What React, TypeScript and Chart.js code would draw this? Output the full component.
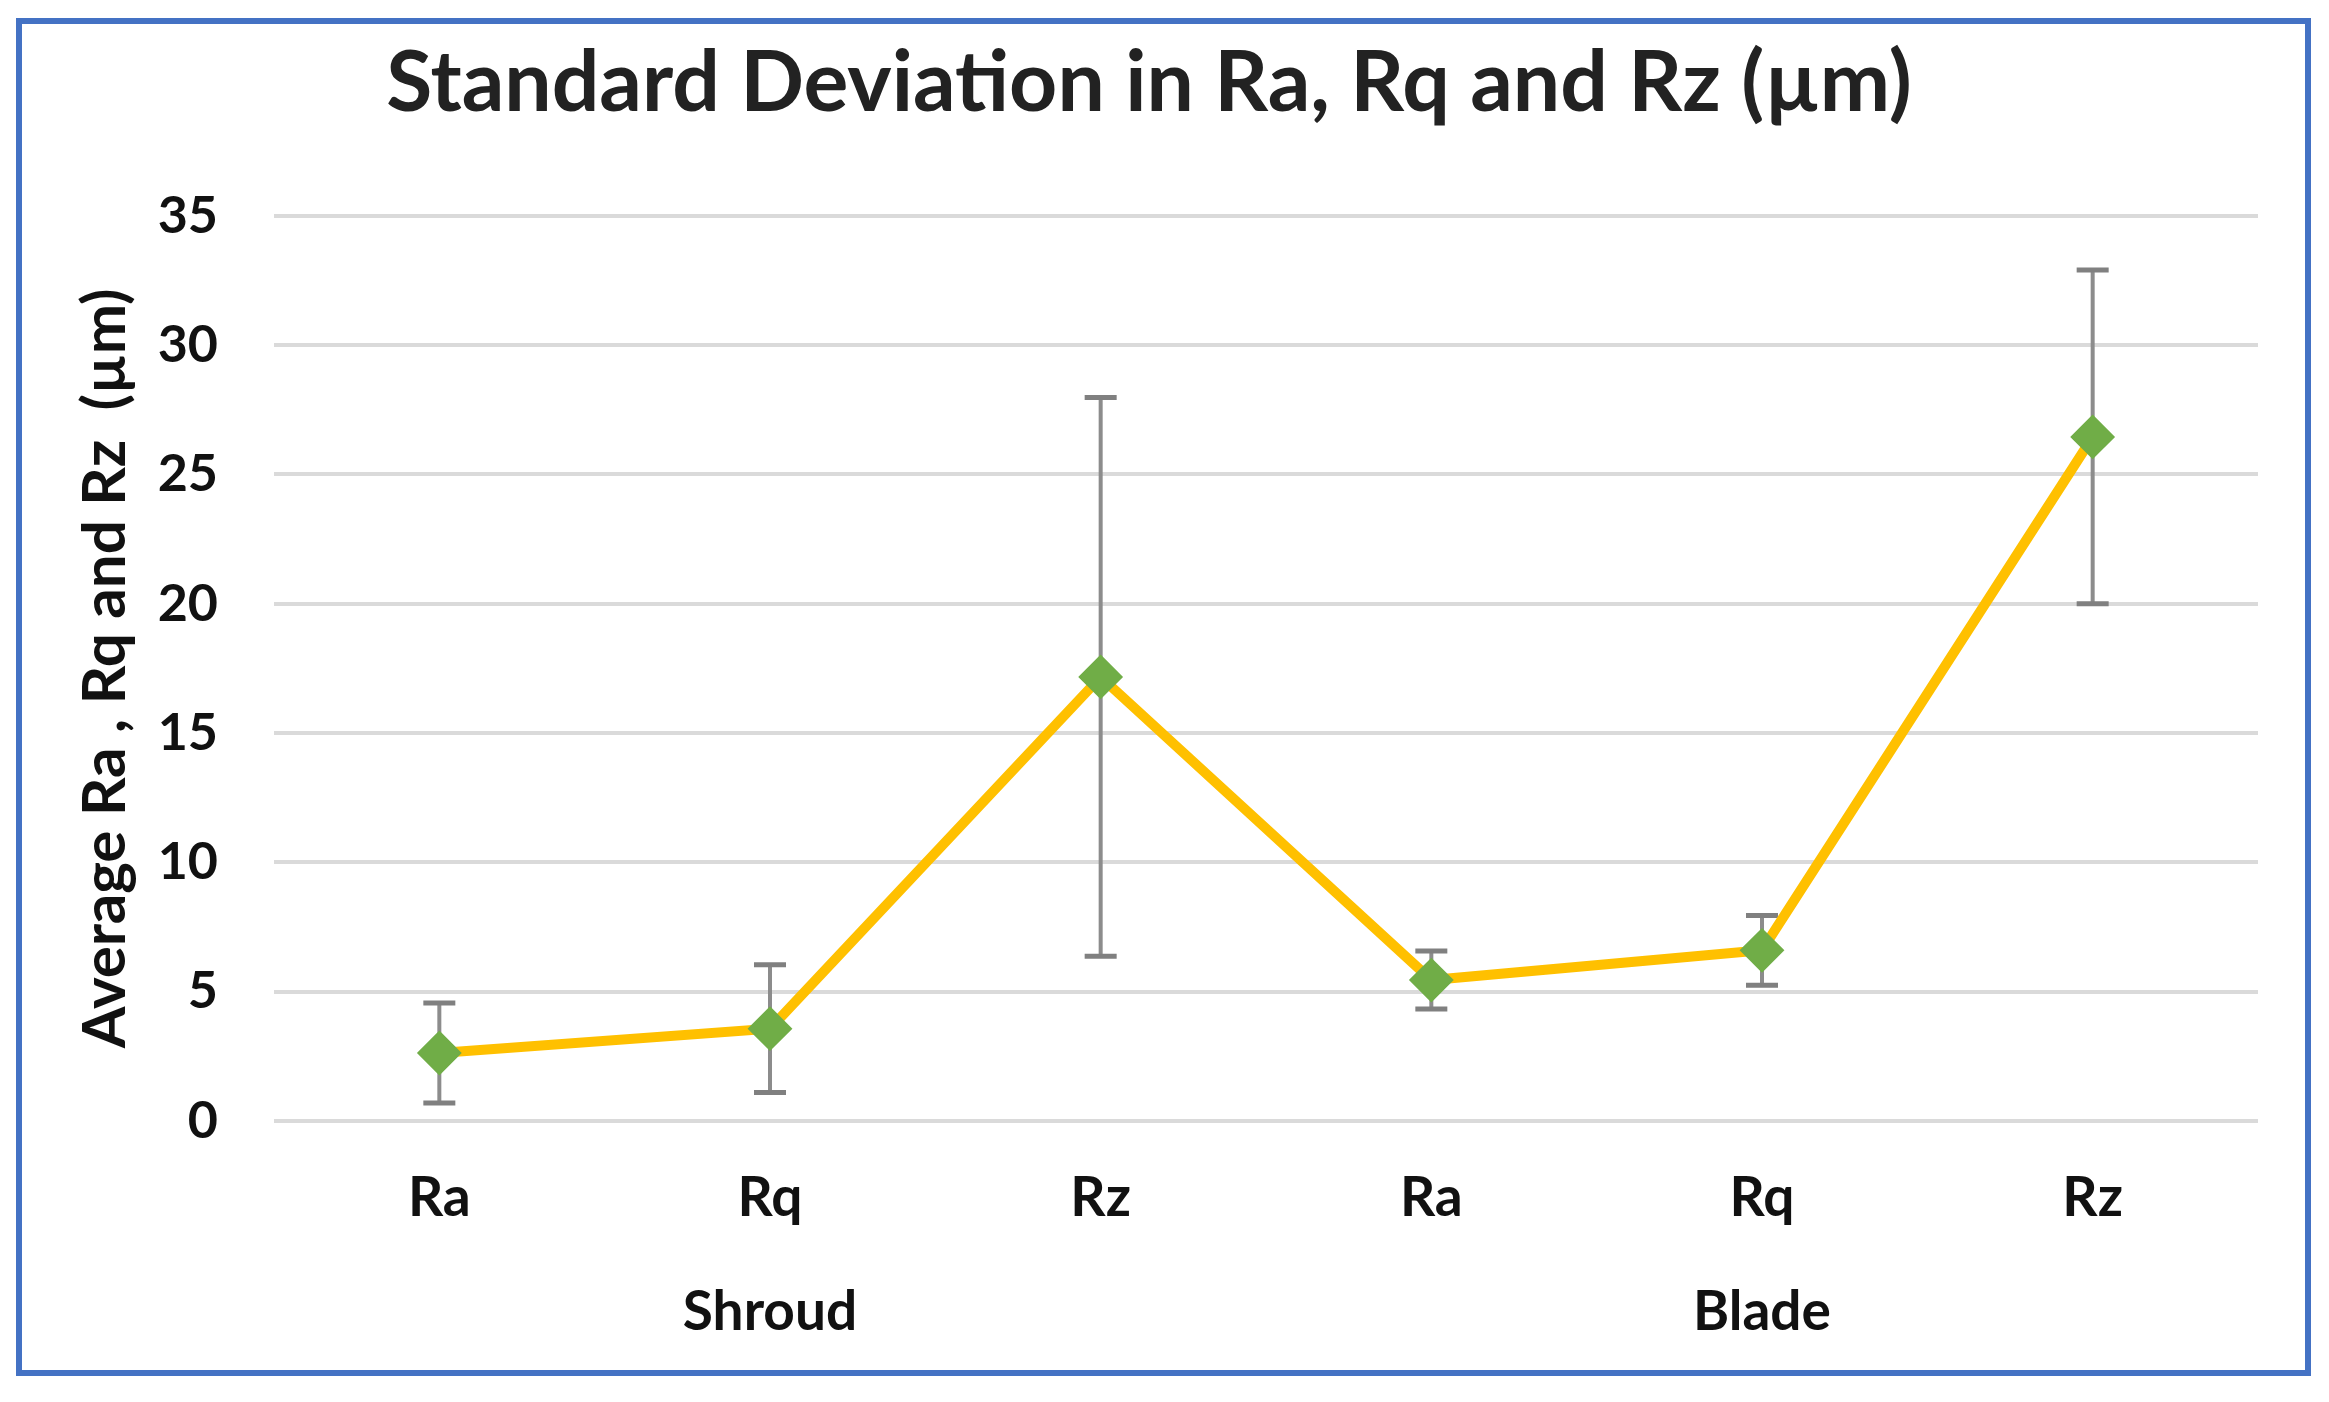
import React, { useEffect, useRef } from 'react';
import { Chart, registerables } from 'chart.js';

Chart.register(...registerables);

// ---- data ----
const categories = ['Ra', 'Rq', 'Rz', 'Ra', 'Rq', 'Rz'];
const groupLabels = ['', 'Shroud', '', '', 'Blade', ''];
const meanValues = [2.63, 3.57, 17.17, 5.45, 6.6, 26.45];
const stdDevValues = [1.93, 2.47, 10.8, 1.12, 1.35, 6.45];
const yMin = 0;
const yMax = 35;
const yStep = 5;
const chartTitle = 'Standard Deviation in Ra, Rq and Rz (\u00b5m)';
const yAxisTitle = 'Average Ra , Rq and Rz  (\u00b5m)';

const W = 2329;
const H = 1402;
const FONT = "Lato, 'Liberation Sans', Arial, sans-serif";

const errorBarPlugin = {
  id: 'errorBars',
  beforeDatasetsDraw(chart: any) {
    const { ctx, scales } = chart;
    const x = scales.x;
    const y = scales.y;
    const ds = chart.data.datasets[0];
    const vals: number[] = ds.data;
    const errs: number[] = ds.errors;
    ctx.save();
    vals.forEach((m, i) => {
      const px = x.getPixelForValue(i);
      const top = y.getPixelForValue(m + errs[i]);
      const bot = y.getPixelForValue(m - errs[i]);
      ctx.strokeStyle = '#8c8c8c';
      ctx.lineWidth = 4;
      ctx.beginPath();
      ctx.moveTo(px, top);
      ctx.lineTo(px, bot);
      ctx.stroke();
      ctx.strokeStyle = '#808080';
      ctx.lineWidth = 5;
      ctx.beginPath();
      ctx.moveTo(px - 16, top);
      ctx.lineTo(px + 16, top);
      ctx.moveTo(px - 16, bot);
      ctx.lineTo(px + 16, bot);
      ctx.stroke();
    });
    ctx.restore();
  },
};

export default function App() {
  const canvasRef = useRef<HTMLCanvasElement | null>(null);

  useEffect(() => {
    const canvas = canvasRef.current;
    if (!canvas) return;
    const chart = new Chart(canvas, {
      type: 'line',
      data: {
        labels: categories,
        datasets: [
          {
            label: 'Average',
            data: meanValues,
            errors: stdDevValues,
            borderColor: '#FFC000',
            borderWidth: 10,
            pointStyle: 'rectRot',
            pointRadius: 21,
            pointBackgroundColor: '#70AD47',
            pointBorderColor: '#70AD47',
            pointBorderWidth: 2,
            tension: 0,
            xAxisID: 'x',
            yAxisID: 'y',
          } as any,
        ],
      },
      options: {
        responsive: false,
        animation: false,
        devicePixelRatio: 1,
        layout: { padding: { left: 40, right: 71, top: 0, bottom: 54 } },
        plugins: {
          legend: { display: false },
          tooltip: { enabled: false },
          title: {
            display: true,
            text: chartTitle,
            color: '#222222',
            font: { family: FONT, size: 84, weight: 'bold', lineHeight: 1.2 },
            padding: { top: 34, bottom: 81 },
          },
        },
        scales: {
          x: {
            type: 'category',
            offset: true,
            weight: 0,
            afterFit: (scale: any) => {
              scale.height = 120;
            },
            grid: { display: false, drawTicks: false },
            border: { display: false },
            ticks: {
              color: '#111111',
              autoSkip: false,
              maxRotation: 0,
              padding: 44,
              font: { family: FONT, size: 55, weight: 'bold', lineHeight: 1.2 },
            },
          },
          x2: {
            type: 'category',
            position: 'bottom',
            labels: groupLabels,
            offset: true,
            weight: 1,
            afterFit: (scale: any) => {
              scale.height = 107;
            },
            grid: { display: false, drawTicks: false },
            border: { display: false },
            ticks: {
              color: '#111111',
              autoSkip: false,
              maxRotation: 0,
              padding: 38,
              font: { family: FONT, size: 55, weight: 'bold', lineHeight: 1.2 },
            },
          },
          y: {
            min: yMin,
            max: yMax,
            afterFit: (scale: any) => {
              scale.width = 234;
            },
            ticks: {
              stepSize: yStep,
              color: '#111111',
              padding: 56,
              font: { family: FONT, size: 52, weight: 'bold', lineHeight: 1.2 },
            },
            grid: { color: '#dadada', lineWidth: 4, drawTicks: false },
            border: { display: false },
            title: {
              display: true,
              text: yAxisTitle,
              color: '#111111',
              padding: { top: 30, bottom: 0 },
              font: { family: FONT, size: 60, weight: 'bold', lineHeight: 1.2 },
            },
          },
        },
      } as any,
      plugins: [errorBarPlugin],
    });
    return () => chart.destroy();
  }, []);

  return (
    <div
      style={{
        position: 'fixed',
        left: 0,
        top: 0,
        width: W,
        height: H,
        background: '#ffffff',
        overflow: 'hidden',
      }}
    >
      <canvas ref={canvasRef} width={W} height={H} style={{ position: 'absolute', left: 0, top: 0, width: W, height: H }} />
      <div
        style={{
          position: 'absolute',
          left: 16,
          top: 18,
          width: 2295,
          height: 1358,
          boxSizing: 'border-box',
          border: '6px solid #4472C4',
          pointerEvents: 'none',
        }}
      />
    </div>
  );
}
